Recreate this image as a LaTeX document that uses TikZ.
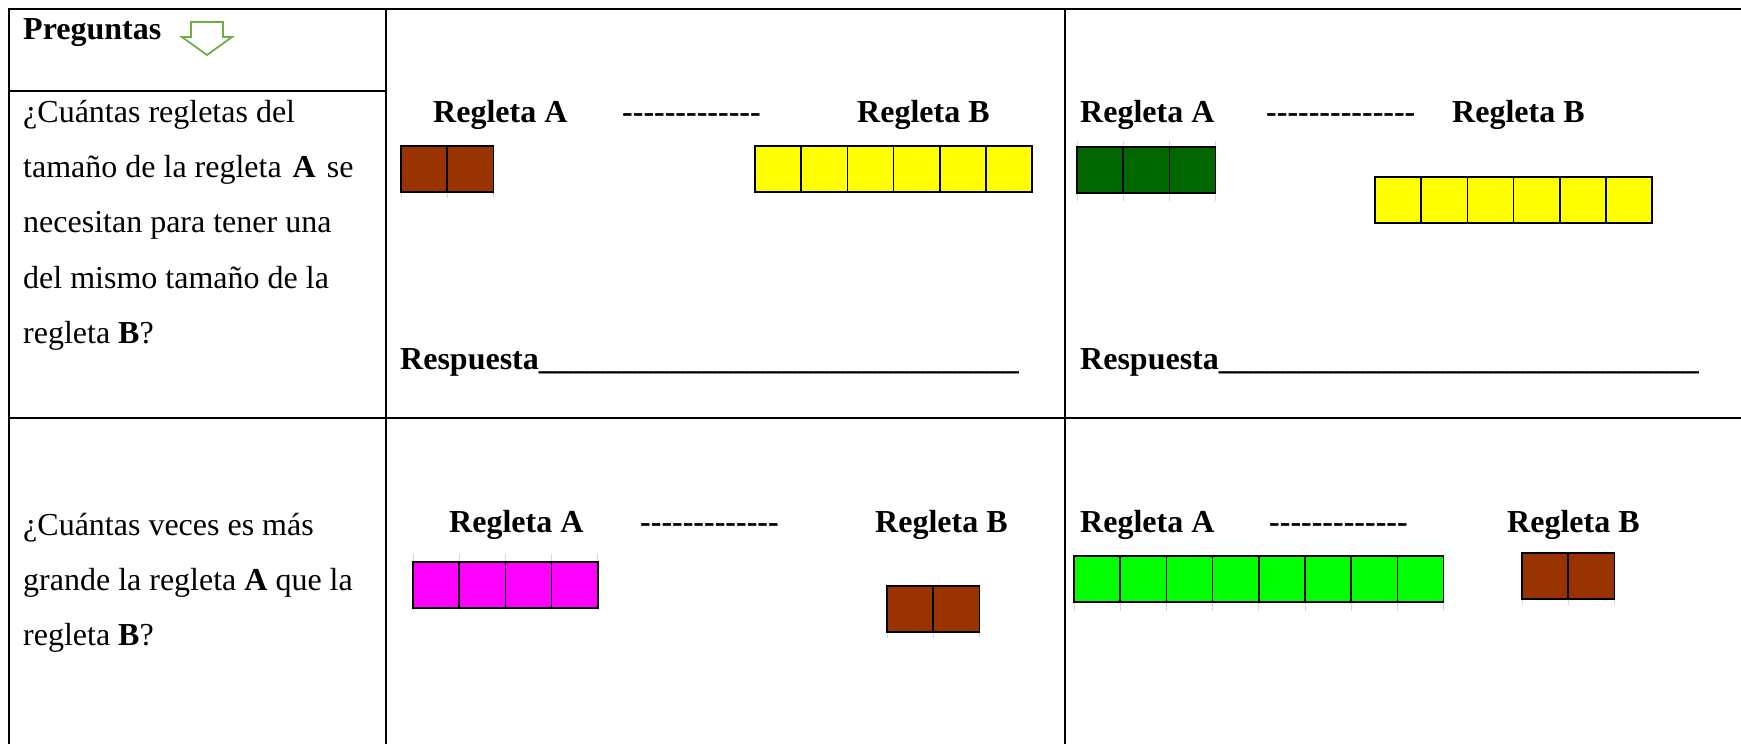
\documentclass[tikz,border=0pt]{standalone}
\usepackage{fontspec}
\newfontfamily\tnr{Liberation Serif}
\definecolor{arrowgreen}{HTML}{70AD47}
\definecolor{rbrown}{HTML}{993300}
\definecolor{ryellow}{HTML}{FFFF00}
\definecolor{rdkgreen}{HTML}{006600}
\definecolor{rmagenta}{HTML}{FF00FF}
\definecolor{rgreen}{HTML}{00FF00}
\newcommand\regleta[6]{%
  \foreach \i in {0,...,#3}{\draw[tickline] ({#1+\i*46.2},{#2-#5}) -- ({#1+\i*46.2},{#2+46+#6});}
  \fill[#4] (#1,#2) rectangle ({#1+#3*46.2},{#2+46});
  \foreach \i in {1,...,#3}{\draw[cellline] ({#1+\i*46.2},#2) -- ({#1+\i*46.2},{#2+46});}
  \draw[cellline] (#1,#2) rectangle ({#1+#3*46.2},{#2+46});
}
\begin{document}
\begin{tikzpicture}[x=1pt,y=-1pt,
  gridline/.style={line width=2pt,line cap=rect},
  cellline/.style={line width=1.6pt,black},
  tickline/.style={line width=0.8pt,gray!30},
  body/.style={anchor=base west,inner sep=0pt,font=\tnr\fontsize{32}{32}\selectfont},
  lab/.style={anchor=base west,inner sep=0pt,font=\tnr\fontsize{32}{32}\selectfont\bfseries},
  hollowarrow/.style={draw=arrowgreen,line width=1.8pt,line join=miter}]
\useasboundingbox (0,0) rectangle (1741,744);
\fill[white] (0,0) rectangle (1741,744);
% table
\draw[gridline] (9,744) -- (9,9) -- (1741,9);
\draw[gridline] (386,9) -- (386,744);
\draw[gridline] (1065,9) -- (1065,744);
\draw[gridline] (9,91) -- (386,91);
\draw[gridline] (9,418) -- (1741,418);
% header
\node[lab] (preg) at (23,39) {Preguntas};
\draw[hollowarrow] (191,22) -- (223,22) -- (223,37) -- (232,37) -- (207,55) -- (182,37) -- (191,37) -- cycle;
% question 1
\node[body] (q1a) at (23,122) {¿Cuántas regletas del};
\node[body] (q1b) at (23,177) {tamaño de la regleta\hspace{3pt} \textbf{A}\hspace{3pt} se};
\node[body] (q1c) at (23,232) {necesitan para tener una};
\node[body] (q1d) at (23,288) {del mismo tamaño de la};
\node[body] (q1e) at (23,343) {regleta \textbf{B}?};
% question 2
\node[body] (q2a) at (23,535) {¿Cuántas veces es más};
\node[body] (q2b) at (23,590) {grande la regleta \textbf{A} que la};
\node[body] (q2c) at (23,645) {regleta \textbf{B}?};
% row 1, col 2
\node[lab] (r1a) at (433,122) {Regleta A};
\node[lab] (r1d) at (622,122) {-------------};
\node[lab] (r1b) at (857,122) {Regleta B};
\regleta{401}{146}{2}{rbrown}{0}{6}
\regleta{755}{146}{6}{ryellow}{0}{0}
\node[lab] (r1r) at (400,369) {Respuesta\hbox to 480pt{\xleaders\hbox{\_}\hfill}};
% row 1, col 3
\node[lab] (s1a) at (1080,122) {Regleta A};
\node[lab] (s1d) at (1266,122) {--------------};
\node[lab] (s1b) at (1452,122) {Regleta B};
\regleta{1077}{147}{3}{rdkgreen}{6}{8}
\regleta{1375}{177}{6}{ryellow}{0}{0}
\node[lab] (s1r) at (1080,369) {Respuesta\hbox to 480pt{\xleaders\hbox{\_}\hfill}};
% row 2, col 2
\node[lab] (r2a) at (449,532) {Regleta A};
\node[lab] (r2d) at (640,532) {-------------};
\node[lab] (r2b) at (875,532) {Regleta B};
\regleta{413}{562}{4}{rmagenta}{8}{2}
\regleta{887}{586}{2}{rbrown}{0}{6}
% row 2, col 3
\node[lab] (s2a) at (1080,532) {Regleta A};
\node[lab] (s2d) at (1269,532) {-------------};
\node[lab] (s2b) at (1507,532) {Regleta B};
\regleta{1074}{556}{8}{rgreen}{0}{9}
\regleta{1522}{553}{2}{rbrown}{0}{6}
\end{tikzpicture}
\end{document}
